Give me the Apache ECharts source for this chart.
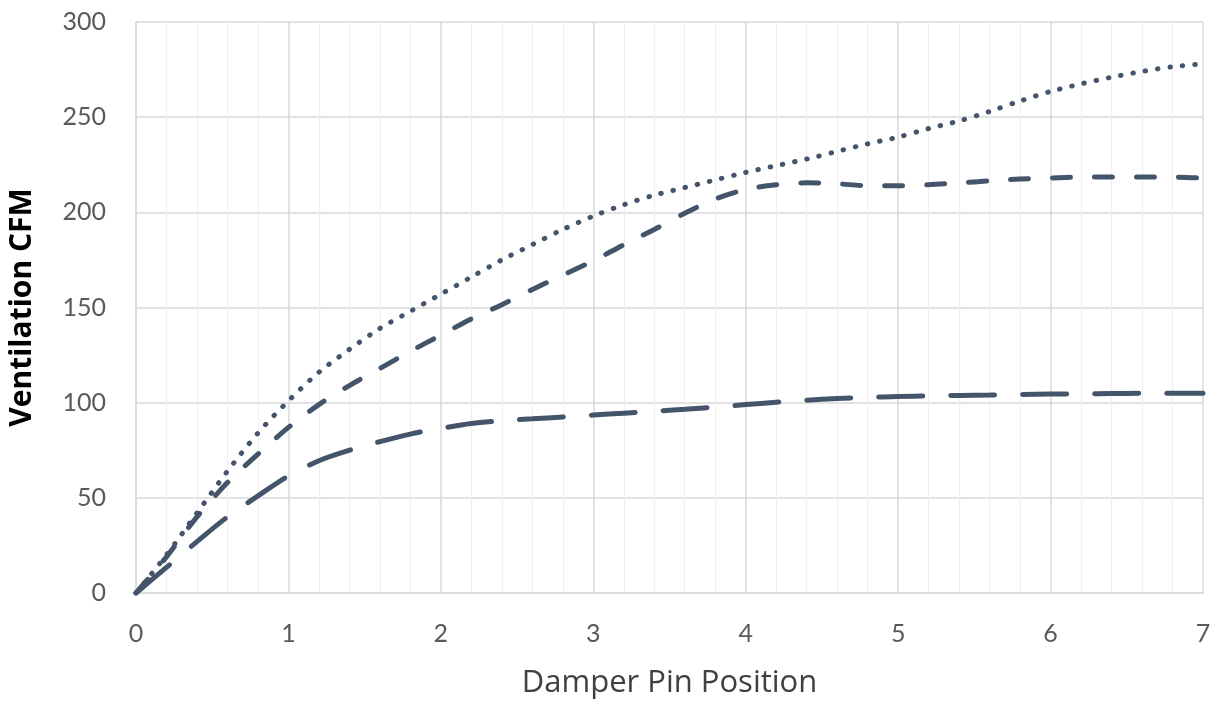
<!DOCTYPE html>
<html>
<head>
<meta charset="utf-8">
<script src="https://cdn.jsdelivr.net/npm/echarts@6/dist/echarts.min.js"></script>
<style>
html,body{margin:0;padding:0;background:#fff;}
#chart{width:1223px;height:709px;}
</style>
</head>
<body>
<div id="chart"></div>
<script>
const pinPositions = [0,0.2,0.4,0.6,0.8,1,1.2,1.4,1.6,1.8,2,2.2,2.4,2.6,2.8,3,3.2,3.4,3.6,3.8,4,4.2,4.4,4.6,4.8,5,5.2,5.4,5.6,5.8,6,6.2,6.4,6.6,6.8,7];
const dottedSeries = [0,20,42,64,84,101,116,128,139,148,157,166,175,183,191,198,204,209,213,217,221,224.5,228,232,236,239.5,244,248,253,258.5,263.5,267.5,271,274,276.5,278];
const dashedSeries = [0,19,40,58,73,87,99,109,118,127,135.5,144,151.5,159.5,167,174.5,183,191,199.5,207,212,214.5,215.5,215,214,214,214.5,215.5,216.5,217.5,218,218.5,218.5,218.5,218.5,218];
const longDashSeries = [0,13.5,27,40,51,61.5,69.5,75,79.5,83.5,86.5,89,90.5,91.5,92.5,93.5,94.5,95.5,96.5,97.7,99,100.2,101.3,102.2,102.8,103.2,103.5,103.8,104,104.3,104.5,104.6,104.8,104.9,105,105];
const xTitle = 'Damper Pin Position';
const yTitle = 'Ventilation CFM';

function pairs(ys){ return pinPositions.map((x,i)=>[x, ys[i]]); }

const lineColor = '#44546A';
const chart = echarts.init(document.getElementById('chart'), null, {renderer:'canvas'});
const font = 'Lato, "Open Sans", sans-serif';
const titleFont = '"Open Sans", Lato, sans-serif';
chart.setOption({
  animation:false,
  backgroundColor:'#ffffff',
  grid:{left:136, right:20, top:22, bottom:116, containLabel:false, outerBoundsMode:'none'},
  xAxis:{
    type:'value', min:0, max:7, interval:1,
    name:xTitle, nameLocation:'middle', nameGap:75,
    nameTextStyle:{fontFamily:titleFont, fontSize:31, color:'#404040'},
    axisLine:{show:true, lineStyle:{color:'#d9d9d9', width:1.5}},
    axisTick:{show:false},
    axisLabel:{fontFamily:font, fontSize:25, color:'#595959', margin:28},
    splitLine:{show:true, lineStyle:{color:'#d9d9d9', width:1.5}},
    minorTick:{show:false, splitNumber:5},
    minorSplitLine:{show:true, lineStyle:{color:'#efefef', width:1.2}}
  },
  yAxis:{
    type:'value', min:0, max:300, interval:50,
    name:yTitle, nameLocation:'middle', nameGap:99, nameRotate:90,
    nameTextStyle:{fontFamily:titleFont, fontSize:30, fontWeight:'bold', color:'#000000'},
    axisLine:{show:true, lineStyle:{color:'#d9d9d9', width:1.5}},
    axisTick:{show:false},
    axisLabel:{fontFamily:font, fontSize:25, color:'#595959', margin:30},
    splitLine:{show:true, lineStyle:{color:'#d9d9d9', width:1.5}}
  },
  series:[
    {type:'line', data:pairs(longDashSeries), smooth:0.3, symbol:'none',
     lineStyle:{color:lineColor, width:5, type:[44,28], cap:'round'}},
    {type:'line', data:pairs(dashedSeries), smooth:0.3, symbol:'none',
     lineStyle:{color:lineColor, width:5, type:[18,24], cap:'round'}},
    {type:'line', data:pairs(dottedSeries), smooth:0.3, symbol:'none',
     lineStyle:{color:lineColor, width:5, type:[0.5,12], cap:'round'}}
  ]
});
</script>
</body>
</html>
